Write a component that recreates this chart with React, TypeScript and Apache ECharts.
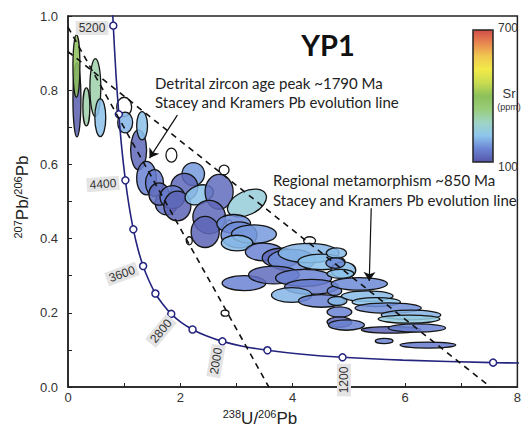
import React, { useEffect, useRef } from "react";
import * as echarts from "echarts";

// Tera-Wasserburg concordia, ages in Ma
const concordiaAge = [5300, 5200, 5000, 4800, 4600, 4400, 4200, 4000, 3800, 3600, 3400, 3200, 3000, 2800, 2600, 2400, 2200, 2000, 1800, 1600, 1400, 1200, 1000, 800, 750];
const concordiaX = [0.784, 0.806, 0.853, 0.905, 0.96, 1.022, 1.089, 1.163, 1.245, 1.337, 1.44, 1.556, 1.688, 1.838, 2.013, 2.217, 2.459, 2.749, 3.105, 3.55, 4.123, 4.887, 5.96, 7.568, 8.105];
const concordiaY = [1.046, 0.974, 0.845, 0.735, 0.639, 0.557, 0.486, 0.425, 0.372, 0.326, 0.287, 0.252, 0.223, 0.197, 0.174, 0.155, 0.138, 0.123, 0.11, 0.099, 0.089, 0.08, 0.0725, 0.0658, 0.0643];
const markerAges = [5200, 4800, 4400, 4000, 3600, 3200, 2800, 2400, 2000, 1600, 1200, 800];

// Stacey & Kramers common-Pb lines
const skLine1790 = [[0, 0.97], [3.575, 0]];
const skLine850 = [[0, 0.904], [7.52, 0]];

// Ellipses: centre, semi-axes (data units), tilt (deg), Sr ppm (0 = not measured)
const ellX = [0.159, 0.15, 0.327, 0.487, 0.575, 1.0, 1.018, 1.257, 1.319, 1.841, 1.398, 1.54, 1.752, 1.62, 2.23, 2.071, 1.858, 1.947, 2.336, 2.779, 2.69, 3.186, 2.513, 2.442, 2.159, 2.867, 2.95, 3.044, 3.31, 3.009, 4.301, 3.487, 3.788, 3.982, 4.283, 4.513, 3.133, 3.664, 4.195, 4.336, 3.982, 4.513, 4.903, 4.779, 4.761, 4.85, 4.743, 4.796, 4.832, 4.832, 4.956, 5.186, 5.327, 5.487, 5.699, 6.106, 6.071, 5.752, 6.212, 5.628, 6.407, 2.796];
const ellY = [0.774, 0.865, 0.755, 0.807, 0.726, 0.755, 0.713, 0.639, 0.704, 0.625, 0.563, 0.55, 0.496, 0.52, 0.574, 0.539, 0.512, 0.488, 0.518, 0.585, 0.526, 0.496, 0.458, 0.418, 0.394, 0.442, 0.44, 0.41, 0.412, 0.388, 0.394, 0.364, 0.348, 0.342, 0.361, 0.337, 0.28, 0.302, 0.294, 0.27, 0.248, 0.232, 0.315, 0.361, 0.334, 0.305, 0.259, 0.232, 0.202, 0.175, 0.167, 0.278, 0.245, 0.229, 0.213, 0.194, 0.183, 0.154, 0.159, 0.124, 0.113, 0.199];
const ellRx = [0.071, 0.062, 0.062, 0.097, 0.097, 0.133, 0.133, 0.142, 0.097, 0.097, 0.175, 0.16, 0.2, 0.18, 0.2, 0.24, 0.22, 0.24, 0.26, 0.088, 0.25, 0.37, 0.29, 0.25, 0.053, 0.053, 0.3, 0.32, 0.4, 0.28, 0.106, 0.33, 0.33, 0.42, 0.54, 0.42, 0.39, 0.45, 0.5, 0.48, 0.36, 0.41, 0.22, 0.18, 0.17, 0.24, 0.13, 0.17, 0.22, 0.22, 0.32, 0.5, 0.46, 0.43, 0.59, 0.53, 0.55, 0.53, 0.51, 0.159, 0.496, 0.07];
const ellRy = [0.1, 0.084, 0.051, 0.078, 0.051, 0.026, 0.028, 0.054, 0.038, 0.019, 0.045, 0.036, 0.032, 0.03, 0.031, 0.037, 0.031, 0.04, 0.025, 0.013, 0.047, 0.032, 0.045, 0.042, 0.011, 0.008, 0.025, 0.035, 0.025, 0.021, 0.011, 0.024, 0.026, 0.029, 0.026, 0.021, 0.02, 0.024, 0.023, 0.02, 0.02, 0.017, 0.022, 0.014, 0.014, 0.012, 0.012, 0.012, 0.014, 0.014, 0.014, 0.017, 0.014, 0.012, 0.014, 0.013, 0.011, 0.009, 0.011, 0.007, 0.008, 0.008];
const ellRot = [0, 0, 0, 0, 0, 0, 0, 0, 0, 0, 0, 0, 0, 0, 0, 0, 0, 0, 20, 0, 0, 25, 0, 0, 0, 0, 0, 0, 0, 0, 0, 0, 0, 0, 0, 0, 0, 0, 0, 0, 0, 0, 0, 0, 0, 0, 0, 0, 0, 0, 0, 0, 0, 0, 0, 0, 0, 0, 0, 0, 0, 0];
const ellSr = [110, 400, 300, 300, 215, 0, 205, 125, 215, 0, 160, 150, 140, 130, 180, 125, 150, 120, 215, 0, 130, 250, 125, 120, 0, 0, 170, 165, 180, 210, 0, 160, 125, 170, 205, 215, 160, 130, 160, 150, 205, 160, 210, 210, 165, 215, 160, 210, 160, 125, 160, 165, 210, 220, 170, 205, 240, 120, 160, 160, 150, 0];

const srColors = ["#5656a8", "#6b84d4", "#8ec6ec", "#9fd4c4", "#98cc7a", "#8cc05a", "#c8dc50", "#f2ea48", "#f0c850", "#e88850", "#d24c48"];

const FONT = "Liberation Sans, Arial, sans-serif";
const ANNOT = "Lato, 'Open Sans', sans-serif";

export default function App() {
  const ref = useRef<HTMLDivElement>(null);
  useEffect(() => {
    if (!ref.current) return;
    const chart = echarts.init(ref.current, null, { renderer: "svg" });
    const ellData = ellX.map((x, i) => [x, ellY[i], ellRx[i], ellRy[i], ellRot[i], ellSr[i]]);
    const curve = concordiaX.map((x, i) => [x, concordiaY[i]]);
    const markers = markerAges.map((a) => {
      const i = concordiaAge.indexOf(a);
      return [concordiaX[i], concordiaY[i]];
    });
    const labelStyle = (text: string) => ({
      text,
      fill: "#333",
      font: `12px ${FONT}`,
      align: "center",
      verticalAlign: "middle",
      backgroundColor: "#e4e4e4",
      padding: [1, 3, 1, 3],
    });
    const option: any = {
      animation: false,
      backgroundColor: "#ffffff",
      grid: { left: 68, top: 16, width: 452, height: 371, show: true, borderColor: "#222", borderWidth: 1.5, backgroundColor: "transparent" },
      xAxis: {
        type: "value", min: 0, max: 8, interval: 1,
        axisLine: { onZero: false, lineStyle: { color: "#222", width: 1.5 } },
        axisTick: { inside: true, length: 4, lineStyle: { color: "#222" } },
        splitLine: { show: false },
        axisLabel: { formatter: (v: number) => (v % 2 === 0 ? String(v) : ""), color: "#333", fontSize: 13, fontFamily: FONT, margin: 4 },
      },
      yAxis: {
        type: "value", min: 0, max: 1, interval: 0.1,
        axisLine: { onZero: false, lineStyle: { color: "#222", width: 1.5 } },
        axisTick: { inside: true, length: 4, lineStyle: { color: "#222" } },
        splitLine: { show: false },
        axisLabel: { formatter: (v: number) => (Math.round(v * 10) % 2 === 0 ? v.toFixed(1) : ""), color: "#333", fontSize: 13, fontFamily: FONT, margin: 10 },
      },
      visualMap: {
        type: "continuous", min: 100, max: 700, dimension: 5, seriesIndex: 0,
        left: 473, top: 30, itemWidth: 20, itemHeight: 132, padding: 0,
        calculable: false, hoverLink: false,
        inRange: { color: srColors },
        outOfRange: { color: "#ffffff" },
      },
      series: [
        {
          type: "custom",
          data: ellData,
          z: 2,
          renderItem: (params: any, api: any) => {
            const c = api.coord([api.value(0), api.value(1)]);
            const s = api.size([api.value(2), api.value(3)]);
            const sr = api.value(5);
            return {
              type: "ellipse",
              x: c[0], y: c[1],
              rotation: (api.value(4) * Math.PI) / 180,
              shape: { cx: 0, cy: 0, rx: s[0], ry: s[1] },
              style: { fill: sr > 0 ? api.visual("color") : "#ffffff", fillOpacity: 0.86, stroke: "#151515", lineWidth: 1.3 },
            };
          },
        },
        {
          type: "line", data: curve, smooth: 0.3, symbol: "none", z: 3,
          lineStyle: { color: "#24247f", width: 1.6 },
        },
        {
          type: "scatter", data: markers, symbol: "circle", symbolSize: 7, z: 4,
          itemStyle: { color: "#ffffff", borderColor: "#24247f", borderWidth: 1.5, opacity: 1 },
        },
        {
          type: "line", data: skLine1790, symbol: "none", z: 5,
          lineStyle: { color: "#111", width: 1.6, type: [6, 5] },
        },
        {
          type: "line", data: skLine850, symbol: "none", z: 5,
          lineStyle: { color: "#111", width: 1.6, type: [6, 5] },
        },
        {
          type: "lines", coordinateSystem: "cartesian2d", z: 6,
          symbol: ["none", "arrow"], symbolSize: 9,
          lineStyle: { color: "#111", width: 1.2, opacity: 1 },
          data: [
            { coords: [[1.947, 0.733], [1.451, 0.617]] },
            { coords: [[5.398, 0.482], [5.363, 0.286]] },
          ],
        },
      ],
      graphic: [
        { type: "text", x: 328, y: 44, style: { text: "YP1", fill: "#111", font: `bold 29px ${ANNOT}`, align: "center", verticalAlign: "middle" }, z: 10 },
        { type: "text", x: 155, y: 83, style: { text: "Detrital zircon age peak ~1790 Ma", fill: "#222", font: `15px ${ANNOT}`, align: "left", verticalAlign: "middle" }, z: 10 },
        { type: "text", x: 155, y: 102, style: { text: "Stacey and Kramers Pb evolution line", fill: "#222", font: `15px ${ANNOT}`, align: "left", verticalAlign: "middle" }, z: 10 },
        { type: "text", x: 273, y: 180, style: { text: "Regional metamorphism ~850 Ma", fill: "#222", font: `15px ${ANNOT}`, align: "left", verticalAlign: "middle" }, z: 10 },
        { type: "text", x: 273, y: 200, style: { text: "Stacey and Kramers Pb evolution line", fill: "#222", font: `15px ${ANNOT}`, align: "left", verticalAlign: "middle" }, z: 10 },
        { type: "rect", shape: { x: 473, y: 30, width: 20, height: 132 }, style: { fill: "none", stroke: "#222", lineWidth: 1.5 }, z: 10 },
        { type: "text", x: 498, y: 28, style: { text: "700", fill: "#333", font: `12px ${FONT}`, align: "left", verticalAlign: "middle" }, z: 10 },
        { type: "text", x: 498, y: 167, style: { text: "100", fill: "#333", font: `12px ${FONT}`, align: "left", verticalAlign: "middle" }, z: 10 },
        { type: "text", x: 509, y: 93, style: { text: "Sr", fill: "#333", font: `13px ${FONT}`, align: "center", verticalAlign: "middle" }, z: 10 },
        { type: "text", x: 509, y: 107, style: { text: "(ppm)", fill: "#333", font: `9px ${FONT}`, align: "center", verticalAlign: "middle" }, z: 10 },
        { type: "text", x: 92, y: 28, rotation: 0, style: labelStyle("5200"), z: 10 },
        { type: "text", x: 103, y: 184, rotation: 0.08, style: labelStyle("4400"), z: 10 },
        { type: "text", x: 122, y: 274, rotation: 0.35, style: labelStyle("3600"), z: 10 },
        { type: "text", x: 161, y: 331, rotation: 0.87, style: labelStyle("2800"), z: 10 },
        { type: "text", x: 216, y: 361, rotation: 1.4, style: labelStyle("2000"), z: 10 },
        { type: "text", x: 344, y: 380, rotation: Math.PI / 2, style: labelStyle("1200"), z: 10 },
        {
          type: "text", x: 260, y: 418, z: 10,
          style: {
            text: "{s|238}{b|U/}{s|206}{b|Pb}", align: "center", verticalAlign: "middle",
            rich: {
              b: { fontSize: 17, fontFamily: FONT, fill: "#222", lineHeight: 20 },
              s: { fontSize: 11, fontFamily: FONT, fill: "#222", verticalAlign: "top", lineHeight: 12 },
            },
          },
        },
        {
          type: "text", x: 22, y: 197, rotation: Math.PI / 2, z: 10,
          style: {
            text: "{s|207}{b|Pb/}{s|206}{b|Pb}", align: "center", verticalAlign: "middle",
            rich: {
              b: { fontSize: 17, fontFamily: FONT, fill: "#222", lineHeight: 20 },
              s: { fontSize: 11, fontFamily: FONT, fill: "#222", verticalAlign: "top", lineHeight: 12 },
            },
          },
        },
      ],
    };
    chart.setOption(option);
    return () => chart.dispose();
  }, []);
  return <div ref={ref} style={{ position: "absolute", left: 0, top: 0, width: 524, height: 427 }} />;
}
